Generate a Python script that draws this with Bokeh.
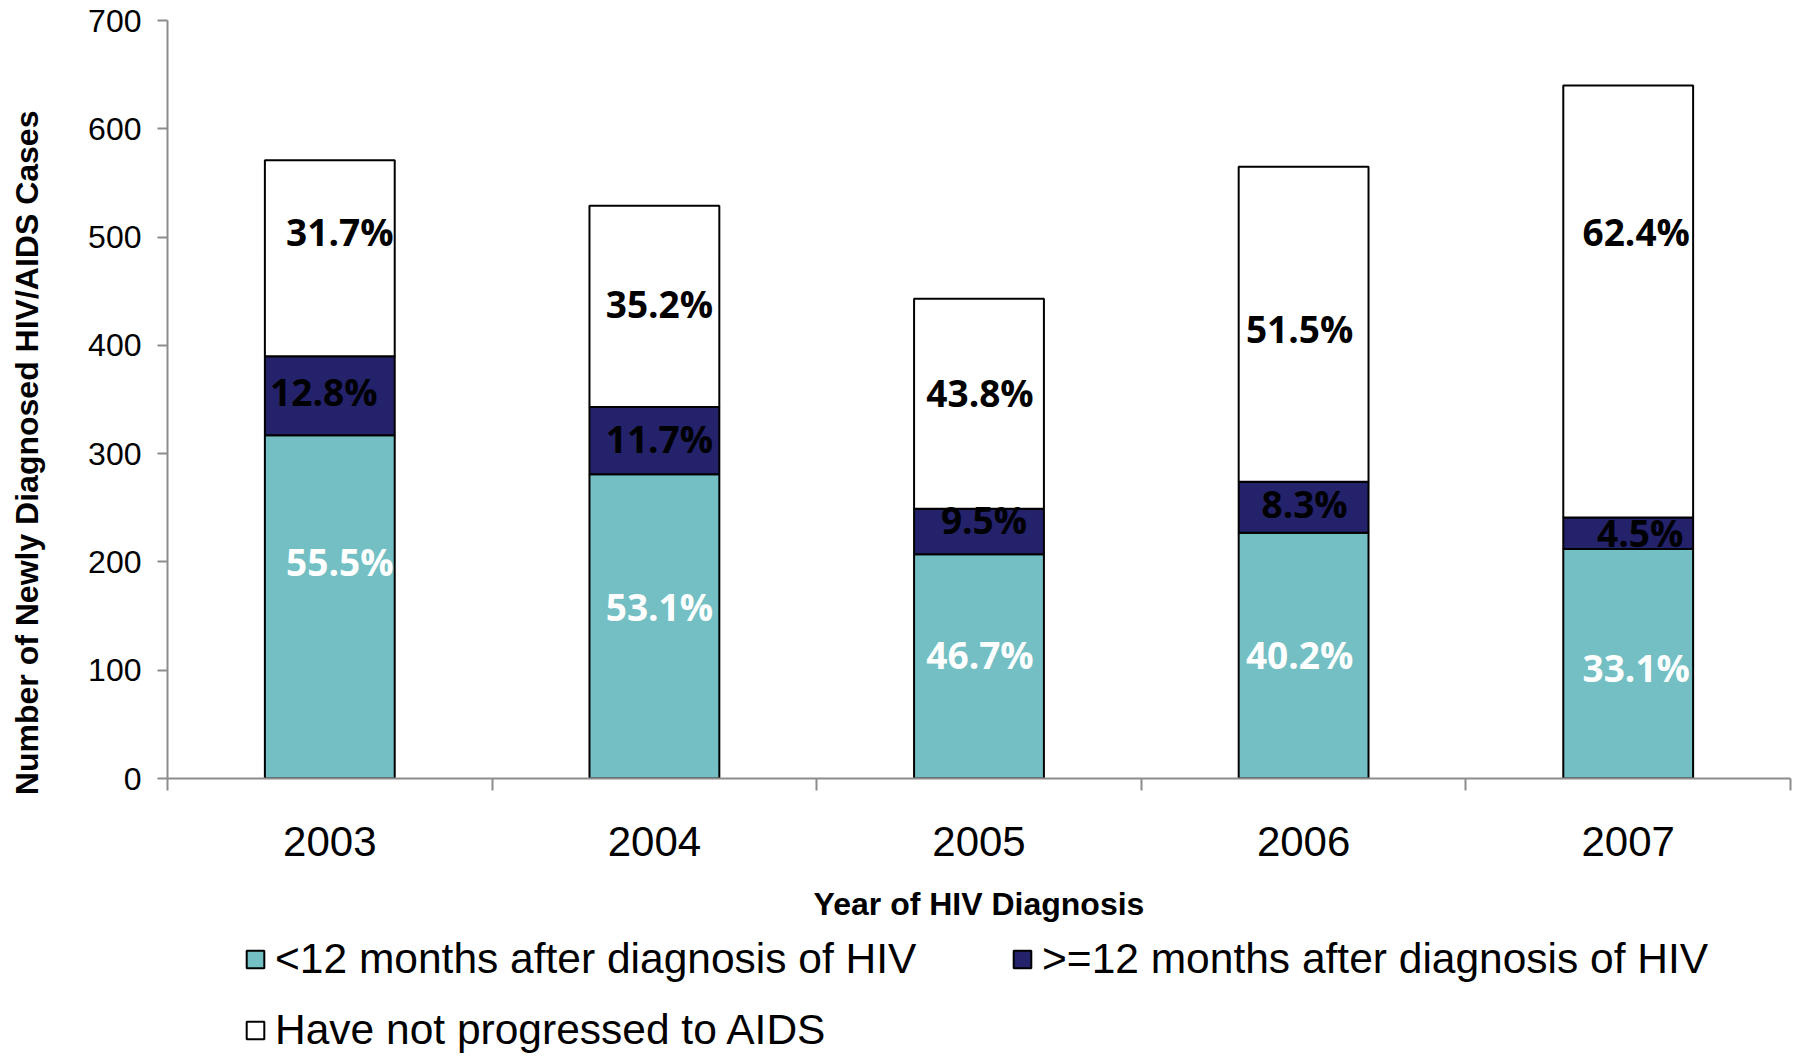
import numpy as np
from bokeh.plotting import figure
from bokeh.layouts import column
from bokeh.models import Range1d, FixedTicker, Legend, LegendItem, ColumnDataSource
from bokeh.core.properties import value
from bokeh.embed import file_html
from bokeh.resources import INLINE

# ---- data ----
years = ["2003", "2004", "2005", "2006", "2007"]
lt12 = [317, 281, 207, 227, 212]        # <12 months after diagnosis of HIV
ge12 = [73, 62, 42, 47, 29]             # >=12 months after diagnosis of HIV
not_prog = [181, 186, 194, 291, 399]    # Have not progressed to AIDS
pct_lt12 = ["55.5%", "53.1%", "46.7%", "40.2%", "33.1%"]
pct_ge12 = ["12.8%", "11.7%", "9.5%", "8.3%", "4.5%"]
pct_not = ["31.7%", "35.2%", "43.8%", "51.5%", "62.4%"]
lbl_y_lt12 = [199, 157, 113, 113, 101]
lbl_y_ge12 = [356, 312, 237, 252, 225]
lbl_y_not = [503, 437, 355, 414, 503]
series_names = ["<12 months after diagnosis of HIV",
                ">=12 months after diagnosis of HIV",
                "Have not progressed to AIDS"]
y_ticks = [0, 100, 200, 300, 400, 500, 600, 700]

# label nudges (pixels) as seen in the reference
dx_lt12 = [10, 5, 1, -4, 8]
dx_ge12 = [-6, 5, 5, 1, 12]
dx_not = [10, 5, 1, -4, 8]

TEAL = "#73BFC4"
NAVY = "#23226A"
AXIS_GREY = "#8C8C8C"
COLORS = [TEAL, NAVY, "white"]

x = np.arange(len(years)) + 0.5

p = figure(width=1798, height=930, output_backend="svg", toolbar_location=None,
           x_range=Range1d(0, len(years)), y_range=Range1d(0, 700),
           min_border_left=167, min_border_right=8, min_border_top=20,
           min_border_bottom=152, outline_line_color=None)
p.xgrid.visible = False
p.ygrid.visible = False

src = ColumnDataSource(dict(x=x, lt12=lt12, ge12=ge12, not_prog=not_prog))
rs = p.vbar_stack(["lt12", "ge12", "not_prog"], x="x", width=0.4, source=src,
                  fill_color=COLORS, line_color="black", line_width=2)

lab_font = value("Open Sans")
for texts, ys, dxs, col in [(pct_lt12, lbl_y_lt12, dx_lt12, "white"),
                            (pct_ge12, lbl_y_ge12, dx_ge12, "black"),
                            (pct_not, lbl_y_not, dx_not, "black")]:
    s = ColumnDataSource(dict(x=x, y=ys, t=texts, dx=dxs))
    p.text(x="x", y="y", text="t", source=s, text_font=lab_font,
           text_font_style="bold", text_font_size="37px", text_color=col,
           text_align="center", text_baseline="middle", x_offset="dx", y_offset=-2)

# x axis
xa = p.xaxis[0]
xa.ticker = FixedTicker(ticks=list(x), minor_ticks=list(range(len(years) + 1)))
xa.major_label_overrides = {float(xi): yr for xi, yr in zip(x, years)}
xa.major_tick_out = 0
xa.major_tick_in = 0
xa.major_tick_line_color = None
xa.minor_tick_out = 12
xa.minor_tick_in = 0
xa.minor_tick_line_color = AXIS_GREY
xa.minor_tick_line_width = 2
xa.axis_line_color = AXIS_GREY
xa.axis_line_width = 2
xa.major_label_text_font = "Liberation Sans"
xa.major_label_text_font_size = "42px"
xa.major_label_text_color = "black"
xa.major_label_standoff = 36
xa.axis_label = "Year of HIV Diagnosis"
xa.axis_label_text_font = "Liberation Sans"
xa.axis_label_text_font_style = "bold"
xa.axis_label_text_font_size = "32px"
xa.axis_label_text_color = "black"
xa.axis_label_standoff = 27

# y axis
ya = p.yaxis[0]
ya.ticker = FixedTicker(ticks=y_ticks)
ya.major_tick_out = 10
ya.major_tick_in = 0
ya.major_tick_line_color = AXIS_GREY
ya.major_tick_line_width = 2
ya.minor_tick_line_color = None
ya.axis_line_color = AXIS_GREY
ya.axis_line_width = 2
ya.major_label_text_font = "Liberation Sans"
ya.major_label_text_font_size = "32px"
ya.major_label_text_color = "black"
ya.major_label_standoff = 16
# trailing no-break spaces shift the centred title down, as in the reference
ya.axis_label = "Number of Newly Diagnosed HIV/AIDS Cases" + "\u00a0" * 12
ya.axis_label_text_font = "Liberation Sans"
ya.axis_label_text_font_style = "bold"
ya.axis_label_text_font_size = "32px"
ya.axis_label_text_color = "black"
ya.axis_label_standoff = 40

# ---- legend strip below the chart ----
lg = figure(width=1798, height=126, output_backend="svg", toolbar_location=None,
            x_range=Range1d(0, 1), y_range=Range1d(0, 1),
            min_border_left=0, min_border_right=0, min_border_top=0,
            min_border_bottom=0, outline_line_color=None)
lg.axis.visible = False
lg.xgrid.visible = False
lg.ygrid.visible = False
# legend-only renderers with no drawable geometry
dummies = [lg.vbar(x=np.array([np.nan]), top=np.array([np.nan]), width=0.4,
                   fill_color=c, line_color="black", line_width=2) for c in COLORS]

for r, name, loc in [(dummies[0], series_names[0], (77, 73)),
                     (dummies[1], series_names[1], (844, 73)),
                     (dummies[2], series_names[2], (77, 2))]:
    leg = Legend(items=[LegendItem(label=name, renderers=[r])], location=loc,
                 orientation="horizontal", padding=0, margin=0, spacing=0,
                 glyph_width=22, glyph_height=22, label_standoff=9,
                 label_height=48,
                 label_text_font="Liberation Sans", label_text_font_size="42.5px",
                 label_text_color="black", border_line_color=None,
                 background_fill_alpha=0)
    lg.add_layout(leg, "center")

layout = column(p, lg, spacing=0)
open("out.html", "w").write(file_html(layout, INLINE))
